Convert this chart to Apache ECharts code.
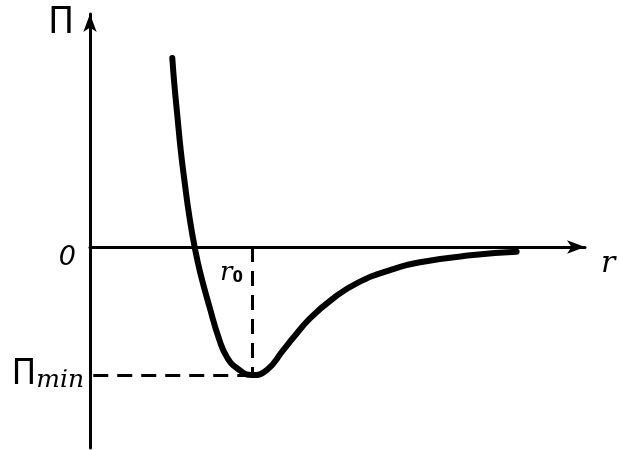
<!DOCTYPE html>
<html>
<head>
<meta charset="utf-8">
<script src="https://cdn.jsdelivr.net/npm/echarts@6/dist/echarts.min.js"></script>
<style>html,body{margin:0;padding:0;background:#fff}#c{width:620px;height:450px}</style>
</head>
<body>
<div id="c"></div>
<script>
// distance r (in units of r0) and potential energy Π (in units of |Πmin|)
var rValues  = [0.508, 0.520, 0.540, 0.560, 0.585, 0.614, 0.646, 0.681, 0.738, 0.799, 0.845, 0.906, 1.000, 1.091, 1.193, 1.253, 1.358, 1.502, 1.646, 1.852, 2.057, 2.366, 2.634];
var piValues = [1.477, 1.281, 1.016, 0.758, 0.500, 0.234, 0.000, -0.203, -0.469, -0.727, -0.859, -0.945, -1.000, -0.961, -0.805, -0.711, -0.557, -0.401, -0.284, -0.180, -0.115, -0.063, -0.037];
var r0 = 1.0;
var piMin = -1.0;
var xTickLabels = ['r₀'];
var yTickValues = [0, piMin];
var yTickLabels = ['0', 'Πmin'];
var xName = 'r';
var yName = 'Π';

var curve = rValues.map(function (r, i) { return [r, piValues[i]]; });

var chart = echarts.init(document.getElementById('c'), null, {renderer: 'canvas'});
chart.setOption({
  backgroundColor: '#fff',
  animation: false,
  grid: {left: 90, right: 35, top: 14, bottom: 2, containLabel: false, outerBoundsMode: 'none'},
  xAxis: {
    type: 'value', min: 0, max: 3.056,
    name: xName,
    nameLocation: 'end', nameGap: 16,
    nameTextStyle: {fontFamily: 'DejaVu Serif', fontStyle: 'italic', fontSize: 30, color: '#000', verticalAlign: 'top', padding: [2, 0, 0, 0]},
    axisLine: {onZero: true, lineStyle: {color: '#000', width: 3}, symbol: ['none', 'arrow'], symbolSize: [10, 18]},
    axisTick: {show: false},
    splitLine: {show: false},
    axisLabel: {show: false}
  },
  yAxis: {
    type: 'value', min: -1.570, max: 1.820,
    name: yName,
    nameLocation: 'end', nameGap: 10,
    nameTextStyle: {fontFamily: 'DejaVu Sans Condensed', fontSize: 38, color: '#000', align: 'right', verticalAlign: 'top', padding: [0, 16, 0, 0]},
    axisLine: {onZero: true, lineStyle: {color: '#000', width: 3}, symbol: ['none', 'arrow'], symbolSize: [10, 18]},
    axisTick: {show: false},
    splitLine: {show: false},
    axisLabel: {
      customValues: yTickValues,
      margin: 6,
      formatter: function (v) {
        var t = yTickLabels[yTickValues.indexOf(v)];
        return v === 0 ? '{z|' + t + '}' : '{p|' + t.charAt(0) + '}{m|' + t.slice(1) + '}';
      },
      rich: {
        z: {fontFamily: 'DejaVu Sans', fontStyle: 'italic', fontSize: 27, color: '#000', padding: [22, 8, 0, 0]},
        p: {fontFamily: 'DejaVu Sans Condensed', fontSize: 36, color: '#000'},
        m: {fontFamily: 'DejaVu Serif', fontStyle: 'italic', fontSize: 25, color: '#000', verticalAlign: 'bottom'}
      }
    }
  },
  series: [{
    type: 'line',
    data: curve,
    smooth: 0.5,
    showSymbol: false,
    lineStyle: {color: '#000', width: 6, cap: 'round', join: 'round'},
    markPoint: {
      silent: true,
      symbol: 'circle', symbolSize: 0,
      data: [{coord: [r0, 0], value: xTickLabels[0]}],
      label: {
        show: true, position: 'insideTopRight', offset: [-4, 8],
        formatter: function (p) { return '{r|' + p.value.charAt(0) + '}{s|' + p.value.slice(1).replace('₀', '0') + '}'; },
        rich: {
          r: {fontFamily: 'DejaVu Serif', fontStyle: 'italic', fontSize: 26, color: '#000'},
          s: {fontFamily: 'DejaVu Sans', fontWeight: 'bold', fontSize: 15, color: '#000', verticalAlign: 'bottom', padding: [10, 0, 0, 0]}
        }
      }
    },
    markLine: {
      silent: true,
      symbol: ['none', 'none'],
      label: {show: false},
      lineStyle: {color: '#000', width: 3, type: [15, 9]},
      data: [
        [{coord: [0.02, piMin]}, {coord: [r0, piMin]}],
        [{coord: [r0, 0]}, {coord: [r0, piMin]}]
      ]
    }
  }]
});
</script>
</body>
</html>
